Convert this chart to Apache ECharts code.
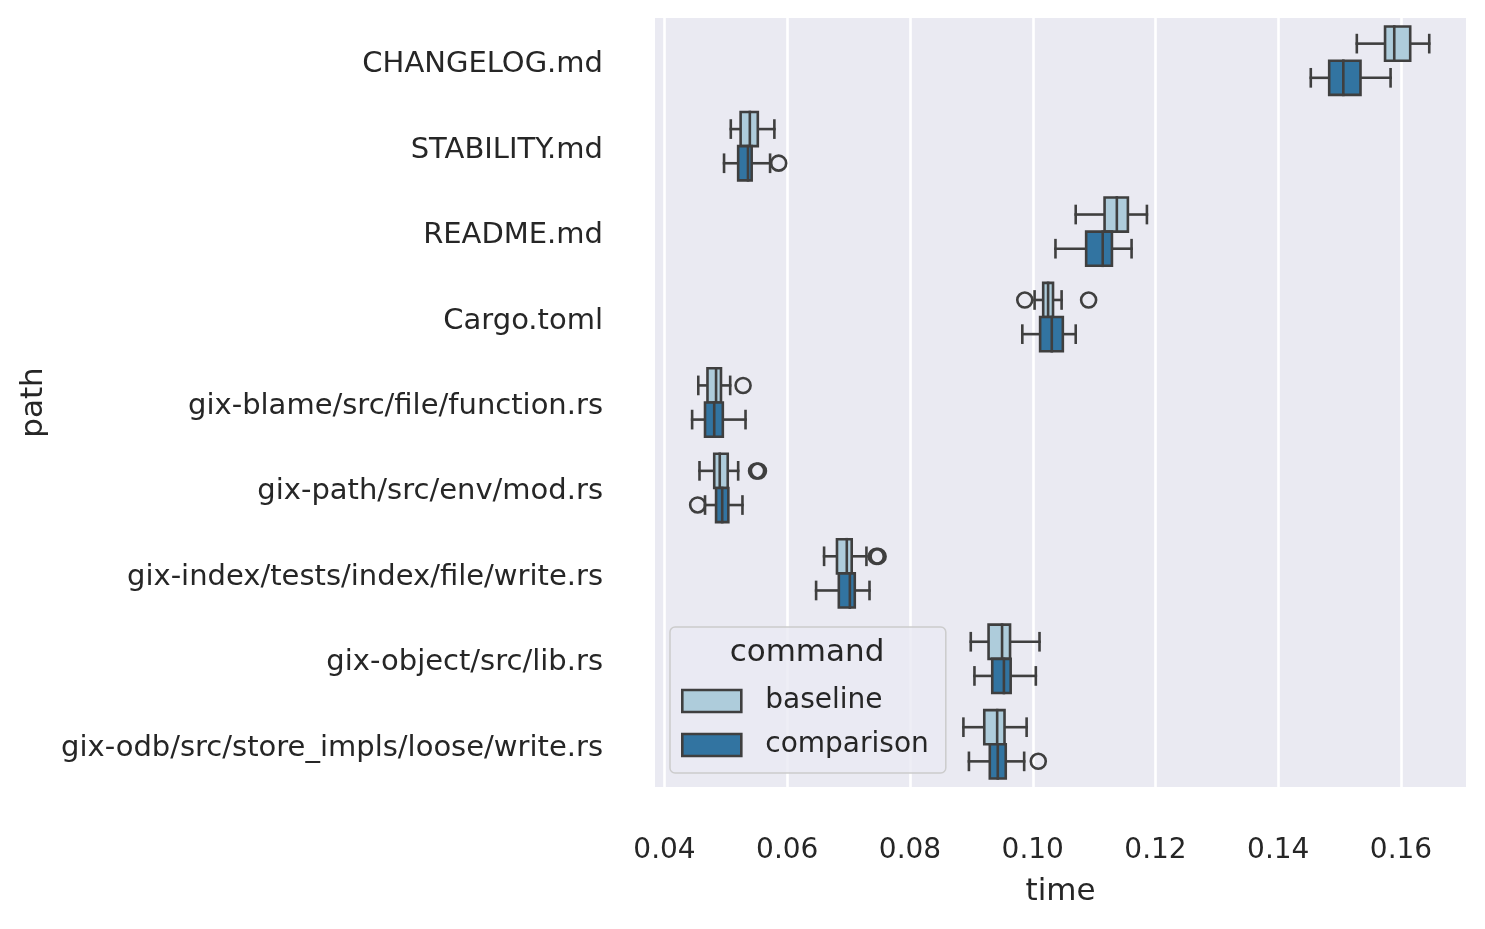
<!DOCTYPE html>
<html>
<head>
<meta charset="utf-8">
<script src="https://cdn.jsdelivr.net/npm/echarts@6/dist/echarts.min.js"></script>
<style>
  html, body { margin: 0; padding: 0; background: #ffffff; }
  #main { width: 1485px; height: 929px; }
</style>
</head>
<body>
<div id="main"></div>
<script>
// categories, top to bottom
var paths = [
  'CHANGELOG.md',
  'STABILITY.md',
  'README.md',
  'Cargo.toml',
  'gix-blame/src/file/function.rs',
  'gix-path/src/env/mod.rs',
  'gix-index/tests/index/file/write.rs',
  'gix-object/src/lib.rs',
  'gix-odb/src/store_impls/loose/write.rs'
];

// [whisker low, q1, median, q3, whisker high] per path
var baselineStats = [
  [0.1528, 0.1574, 0.1589, 0.1615, 0.1646],
  [0.0508, 0.0524, 0.0539, 0.0552, 0.0579],
  [0.1070, 0.1117, 0.1137, 0.1155, 0.1186],
  [0.1003, 0.1017, 0.1025, 0.1033, 0.1047],
  [0.0455, 0.0470, 0.0484, 0.0492, 0.0507],
  [0.0457, 0.0481, 0.0490, 0.0503, 0.0520],
  [0.0660, 0.0681, 0.0697, 0.0705, 0.0729],
  [0.0899, 0.0928, 0.0950, 0.0963, 0.1011],
  [0.0887, 0.0921, 0.0942, 0.0954, 0.0990]
];

var comparisonStats = [
  [0.1453, 0.1483, 0.1506, 0.1534, 0.1583],
  [0.0497, 0.0520, 0.0536, 0.0542, 0.0572],
  [0.1037, 0.1087, 0.1114, 0.1129, 0.1161],
  [0.0983, 0.1012, 0.1031, 0.1049, 0.1070],
  [0.0445, 0.0466, 0.0481, 0.0495, 0.0532],
  [0.0466, 0.0484, 0.0494, 0.0504, 0.0527],
  [0.0647, 0.0684, 0.0702, 0.0710, 0.0734],
  [0.0905, 0.0934, 0.0953, 0.0964, 0.1005],
  [0.0896, 0.0930, 0.0943, 0.0956, 0.0986]
];

// outliers: [time, path index]
var baselineOutliers = [
  [0.0987, 3], [0.1091, 3],
  [0.0528, 4],
  [0.0550, 5], [0.0553, 5],
  [0.0745, 6], [0.0748, 6]
];
var comparisonOutliers = [
  [0.0586, 1],
  [0.0454, 5],
  [0.1009, 8]
];

var xTicks = [0.04, 0.06, 0.08, 0.10, 0.12, 0.14, 0.16];

var FONT = 'DejaVu Sans';
var TEXT = '#262626';
var LINE = '#3f3f3f';
var LIGHT = '#aeccdb';
var DARK = '#3274a1';

function toRows(stats) {
  return stats.map(function (s, i) { return [i].concat(s); });
}

// side -1 = upper half of the band, +1 = lower half
function boxRenderer(side, fill) {
  return function (params, api) {
    var cat = api.value(0);
    var band = api.size([0, 1])[1];
    var h = band * 0.4;
    var mid = api.coord([api.value(3), cat])[1];
    var top = side < 0 ? mid - h : mid;
    var cy = top + h / 2;
    var x = [1, 2, 3, 4, 5].map(function (i) {
      return api.coord([api.value(i), cat])[0];
    });
    var capH = h * 0.5;
    var ls = { stroke: LINE, lineWidth: 2.6, lineCap: 'square' };
    return {
      type: 'group',
      children: [
        { type: 'line', shape: { x1: x[0], y1: cy, x2: x[1], y2: cy }, style: ls },
        { type: 'line', shape: { x1: x[3], y1: cy, x2: x[4], y2: cy }, style: ls },
        { type: 'line', shape: { x1: x[0], y1: cy - capH / 2, x2: x[0], y2: cy + capH / 2 }, style: ls },
        { type: 'line', shape: { x1: x[4], y1: cy - capH / 2, x2: x[4], y2: cy + capH / 2 }, style: ls },
        { type: 'rect', shape: { x: x[1], y: top, width: x[3] - x[1], height: h },
          style: { fill: fill, stroke: LINE, lineWidth: 2.6 } },
        { type: 'line', shape: { x1: x[2], y1: top, x2: x[2], y2: top + h }, style: ls }
      ]
    };
  };
}

var myChart = echarts.init(document.getElementById('main'));

myChart.setOption({
  animation: false,
  textStyle: { fontFamily: FONT },
  grid: {
    left: 655, top: 18, width: 811, height: 769,
    show: true, backgroundColor: '#eaeaf2', borderWidth: 0
  },
  xAxis: {
    type: 'value',
    min: 0.03845,
    max: 0.17059,
    name: 'time',
    nameLocation: 'middle',
    nameGap: 89,
    nameTextStyle: { fontSize: 31, color: TEXT, fontFamily: FONT },
    axisLine: { show: false },
    axisTick: { show: false, customValues: xTicks },
    axisLabel: {
      customValues: xTicks,
      fontSize: 28, color: TEXT, fontFamily: FONT, margin: 50,
      formatter: function (v) { return v.toFixed(2); }
    },
    splitLine: { show: true, lineStyle: { color: '#ffffff', width: 2.6 } }
  },
  yAxis: {
    type: 'category',
    data: paths,
    inverse: true,
    name: 'path',
    nameLocation: 'middle',
    nameGap: 606,
    nameTextStyle: { fontSize: 31, color: TEXT, fontFamily: FONT },
    axisLine: { show: false },
    axisTick: { show: false },
    axisLabel: {
      margin: 52,
      formatter: function (v) { return '{p|' + v + '}'; },
      rich: {
        p: { fontSize: 29, color: TEXT, fontFamily: FONT, padding: [8, 0, 0, 0] }
      }
    },
    splitLine: { show: false }
  },
  legend: {
    orient: 'vertical',
    left: 670,
    top: 627,
    padding: [60, 17, 14, 11],
    itemWidth: 59,
    itemHeight: 22,
    itemGap: 16,
    icon: 'rect',
    backgroundColor: 'rgba(234,234,242,0.8)',
    borderColor: '#cccccc',
    borderWidth: 1.5,
    borderRadius: 5,
    textStyle: { fontSize: 28, color: TEXT, fontFamily: FONT, padding: [0, 0, 0, 19] },
    data: [
      { name: 'baseline', itemStyle: { color: LIGHT, borderColor: LINE, borderWidth: 2.6 } },
      { name: 'comparison', itemStyle: { color: DARK, borderColor: LINE, borderWidth: 2.6 } }
    ]
  },
  graphic: [{
    type: 'text',
    x: 807,
    y: 653,
    z: 100,
    style: {
      text: 'command', align: 'center', verticalAlign: 'middle',
      fontSize: 31, fill: TEXT, fontFamily: FONT
    }
  }],
  series: [
    {
      name: 'baseline',
      type: 'custom',
      renderItem: boxRenderer(-1, LIGHT),
      itemStyle: { color: LIGHT },
      encode: { y: 0, x: [1, 2, 3, 4, 5] },
      data: toRows(baselineStats)
    },
    {
      name: 'comparison',
      type: 'custom',
      renderItem: boxRenderer(1, DARK),
      itemStyle: { color: DARK },
      encode: { y: 0, x: [1, 2, 3, 4, 5] },
      data: toRows(comparisonStats)
    },
    {
      name: 'baseline outliers',
      type: 'scatter',
      symbol: 'circle',
      symbolSize: 15,
      symbolOffset: [0, -17],
      itemStyle: { color: 'rgba(0,0,0,0)', borderColor: LINE, borderWidth: 2.6, opacity: 1 },
      data: baselineOutliers
    },
    {
      name: 'comparison outliers',
      type: 'scatter',
      symbol: 'circle',
      symbolSize: 15,
      symbolOffset: [0, 17],
      itemStyle: { color: 'rgba(0,0,0,0)', borderColor: LINE, borderWidth: 2.6, opacity: 1 },
      data: comparisonOutliers
    }
  ]
});
</script>
</body>
</html>
